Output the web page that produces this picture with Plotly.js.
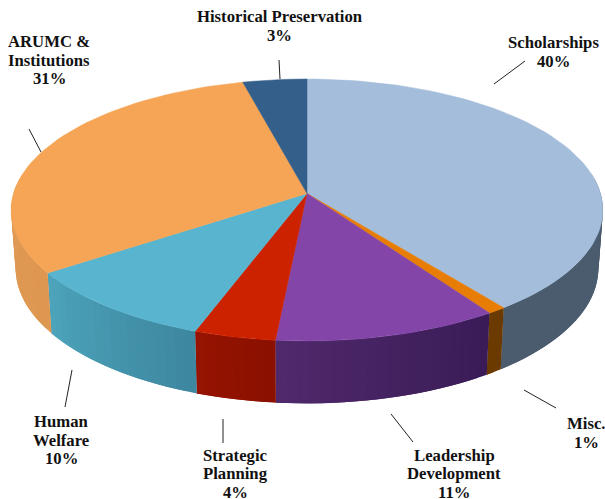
<!DOCTYPE html>
<html><head><meta charset="utf-8">
<script src="https://cdn.plot.ly/plotly-3.0.1.min.js"></script>
<style>html,body{margin:0;padding:0;background:#fff}#c{width:605px;height:499px}</style>
</head><body><div id="c"></div>
<script>
// Data, clockwise from 12 o'clock
const categories = ['Scholarships','Misc.','Leadership<br>Development','Strategic<br>Planning','Human<br>Welfare','ARUMC &<br>Institutions','Historical Preservation'];
const values = [39.7,0.9,10.9,3.95,9.85,30.75,3.95];
const percentLabels = ['40%','1%','11%','4%','10%','31%','3%'];
const topColors = ['#A3BDDB','#E87D05','#8345A8','#CC2200','#58B4CF','#F5A555','#345F8A'];
const wallStart = ['#4A5C6E','#6B3A00','#391B56','#8A1000','#3D879F','#DE9750','#2A4C6E'];
const wallEnd   = ['#4A5C6E','#6B3A00','#50296C','#961300','#4CA4BB','#E0A060','#2A4C6E'];

// Projection of the tilted disc
const cx=307, cy=193.5, R=293.5, S=128.9, k=0.126, bs=1.03, bd=58, bx=0.985;
function topPt(a){const u=Math.sin(a),v=-Math.cos(a),w=1-k*v;return [cx+R*u/w,cy+S*v/w,v];}
function botPt(a){const p=topPt(a);return [cx+(p[0]-cx)*bx,cy+(p[1]-cy)*bs+bd];}
function hex(c){return [1,3,5].map(i=>parseInt(c.substr(i,2),16));}
function mix(a,b,t){const A=hex(a),B=hex(b);return 'rgb('+A.map((x,i)=>Math.round(x+(B[i]-x)*t)).join(',')+')';}
function poly(xs,ys,c,w){return {type:'scatter',mode:w?'lines':'none',x:xs.concat(xs[0]),y:ys.concat(ys[0]),fill:'toself',fillcolor:c,line:{color:c,width:w},hoverinfo:'skip',showlegend:false};}

const total=values.reduce((a,b)=>a+b,0);
const walls=[],tops=[];
let cum=0;
values.forEach((val,i)=>{
  const a0=cum/total*2*Math.PI, a1=(cum+val)/total*2*Math.PI; cum+=val;
  const n=Math.max(2,Math.ceil((a1-a0)/(Math.PI/90)));
  const xs=[cx],ys=[cy];
  for(let j=0;j<=n;j++){const p=topPt(a0+(a1-a0)*j/n);xs.push(p[0]);ys.push(p[1]);}
  tops.push(poly(xs,ys,topColors[i],0.5));
  for(let j=0;j<n;j++){
    const b0=a0+(a1-a0)*j/n, b1=a0+(a1-a0)*Math.min(n,j+2)/n;
    if(topPt(b0)[2]<-0.1&&topPt(b1)[2]<-0.1) continue;
    const p=topPt(b0),q=topPt(b1),r=botPt(b1),s=botPt(b0);
    walls.push(poly([p[0],q[0],r[0],s[0]],[p[1],q[1],r[1],s[1]],mix(wallStart[i],wallEnd[i],(j+0.5)/n),0));
  }
});

const font={family:'"Liberation Serif","Times New Roman",serif',size:16.7,color:'#111'};
const labelPos=[[553,52],[586,433],[454,473.5],[235,473.5],[61,440],[49,60],[279.5,26]];
const linePitch=18.5;
const annotations=[];
categories.forEach((c,i)=>{
  const lines=c.split('<br>').concat(percentLabels[i]);
  lines.forEach((t,j)=>annotations.push({xref:'x',yref:'y',x:labelPos[i][0],y:labelPos[i][1]+(j-(lines.length-1)/2)*linePitch,xanchor:'center',yanchor:'middle',align:'center',showarrow:false,text:'<b>'+t+'</b>',font:font}));
});
const leaders=[[525,61,494,84],[524,390,556,408],[391,414,413,442],[223,419,223,443],[72,370,65,407],[29,129,41,152],[279,60,280,79]];
const shapes=leaders.map(l=>({type:'line',xref:'x',yref:'y',x0:l[0],y0:l[1],x1:l[2],y1:l[3],line:{color:'#222',width:1}}));

Plotly.newPlot('c',walls.concat(tops),{
  width:605,height:499,margin:{l:0,r:0,t:0,b:0},paper_bgcolor:'#fff',plot_bgcolor:'#fff',showlegend:false,
  xaxis:{range:[0,605],visible:false,fixedrange:true},
  yaxis:{range:[499,0],visible:false,fixedrange:true},
  annotations:annotations,shapes:shapes
},{displayModeBar:false,staticPlot:true});
</script></body></html>
